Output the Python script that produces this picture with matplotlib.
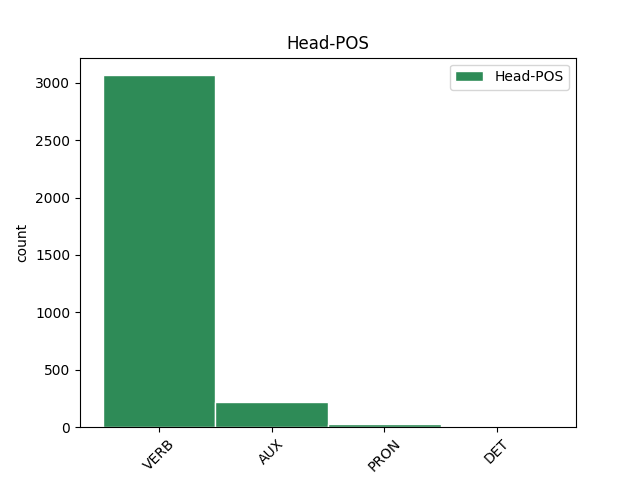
import matplotlib
matplotlib.use("Agg")
import matplotlib.pyplot as plt

categories = ['VERB', 'AUX', 'PRON', 'DET']
counts = [3065, 218, 24, 2]

fig, ax = plt.subplots(figsize=(6.4, 4.8), dpi=100)
ax.bar(range(len(categories)), counts, width=1.0, color='seagreen',
       edgecolor='white', linewidth=1, label='Head-POS')
ax.set_xticks(range(len(categories)), categories, rotation=45)
ax.set_ylabel('count')
ax.set_title('Head-POS')
ax.legend(loc='upper right')

fig.savefig('out.png')
